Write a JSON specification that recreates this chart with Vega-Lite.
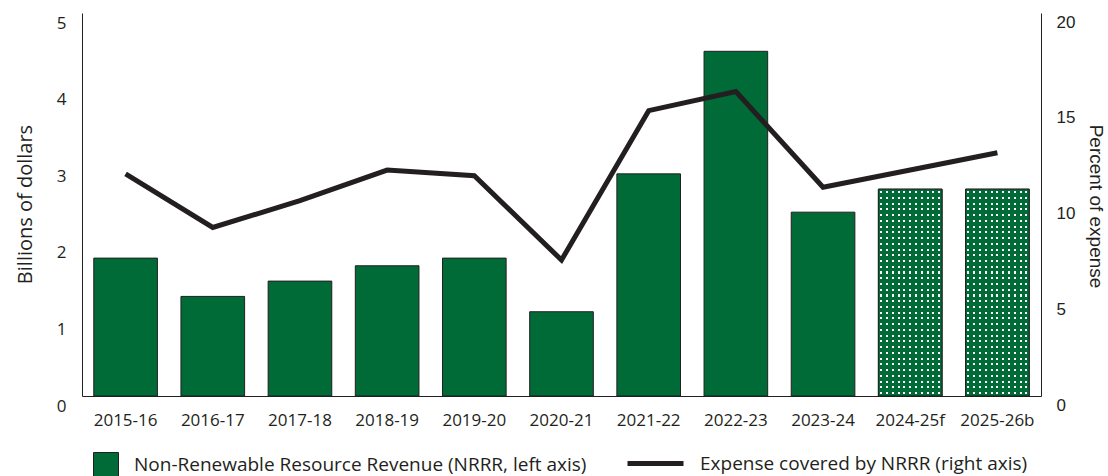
{
  "$schema": "https://vega.github.io/schema/vega-lite/v6.json",
  "width": 959,
  "height": 383,
  "autosize": {"type": "none"},
  "padding": {"left": 82, "top": 13, "right": 67, "bottom": 80},
  "background": "white",
  "config": {
    "view": {"stroke": null},
    "axis": {"grid": false, "ticks": false, "domainColor": "#231f20", "domainWidth": 1, "labelColor": "#231f20", "titleColor": "#231f20", "titleFontWeight": "normal"}
  },
  "data": {
    "values": [
      {"year": "2015-16", "nrrr": 1.8, "pct": 11.6, "type": "actual"},
      {"year": "2016-17", "nrrr": 1.3, "pct": 8.8, "type": "actual"},
      {"year": "2017-18", "nrrr": 1.5, "pct": 10.2, "type": "actual"},
      {"year": "2018-19", "nrrr": 1.7, "pct": 11.8, "type": "actual"},
      {"year": "2019-20", "nrrr": 1.8, "pct": 11.5, "type": "actual"},
      {"year": "2020-21", "nrrr": 1.1, "pct": 7.1, "type": "actual"},
      {"year": "2021-22", "nrrr": 2.9, "pct": 14.9, "type": "actual"},
      {"year": "2022-23", "nrrr": 4.5, "pct": 15.9, "type": "actual"},
      {"year": "2023-24", "nrrr": 2.4, "pct": 10.9, "type": "actual"},
      {"year": "2024-25f", "nrrr": 2.7, "pct": 11.8, "type": "forecast"},
      {"year": "2025-26b", "nrrr": 2.7, "pct": 12.7, "type": "forecast"}
    ]
  },
  "encoding": {
    "x": {
      "field": "year", "type": "nominal", "sort": null,
      "scale": {"paddingInner": 0.27, "paddingOuter": 0.135},
      "axis": {"title": null, "labelAngle": 0, "labelFont": "Open Sans", "labelFontSize": 17, "labelPadding": 16, "labelColor": "#231f20"}
    }
  },
  "layer": [
    {
      "layer": [
        {
          "mark": {"type": "bar", "stroke": "#231f20", "strokeWidth": 1},
          "encoding": {
            "y": {
              "field": "nrrr", "type": "quantitative",
              "scale": {"domain": [0, 5], "nice": false},
              "axis": {"orient": "left", "title": "Billions of dollars", "values": [0, 1, 2, 3, 4, 5], "format": "d", "labelFont": "Open Sans", "labelFontSize": 17, "labelPadding": 16, "labelOffset": 10, "titleFont": "Open Sans", "titleFontSize": 20, "titleAngle": 270, "titleX": -51, "titleY": 191, "titleBaseline": "alphabetic"}
            },
            "fill": {
              "datum": "Non-Renewable Resource Revenue (NRRR, left axis)",
              "type": "nominal",
              "scale": {"range": ["#006b37"]},
              "legend": {
                "orient": "none", "legendX": 11, "legendY": 439, "title": null,
                "labelFont": "Open Sans", "labelFontSize": 19, "labelColor": "#231f20", "labelLimit": 700, "labelOffset": 15,
                "symbolType": "square", "symbolSize": 625, "symbolStrokeColor": "#231f20", "symbolStrokeWidth": 1, "symbolFillColor": "#006b37", "padding": 0
              }
            }
          }
        },
        {
          "transform": [{"filter": "datum.type === 'forecast'"}],
          "mark": {"type": "bar", "fill": "white"},
          "encoding": {"y": {"field": "nrrr", "type": "quantitative"}}
        },
        {
          "transform": [{"filter": "datum.type === 'forecast'"}],
          "mark": {
            "type": "bar",
            "fill": {
              "gradient": "linear", "x1": 0, "y1": 0, "x2": 1, "y2": 0,
              "stops": [
                {"offset": 0.03, "color": "#006b37"}, {"offset": 0.03, "color": "rgba(0,107,55,0)"}, {"offset": 0.06, "color": "rgba(0,107,55,0)"}, {"offset": 0.06, "color": "#006b37"},
                {"offset": 0.121, "color": "#006b37"}, {"offset": 0.121, "color": "rgba(0,107,55,0)"}, {"offset": 0.151, "color": "rgba(0,107,55,0)"}, {"offset": 0.151, "color": "#006b37"},
                {"offset": 0.212, "color": "#006b37"}, {"offset": 0.212, "color": "rgba(0,107,55,0)"}, {"offset": 0.242, "color": "rgba(0,107,55,0)"}, {"offset": 0.242, "color": "#006b37"},
                {"offset": 0.303, "color": "#006b37"}, {"offset": 0.303, "color": "rgba(0,107,55,0)"}, {"offset": 0.333, "color": "rgba(0,107,55,0)"}, {"offset": 0.333, "color": "#006b37"},
                {"offset": 0.394, "color": "#006b37"}, {"offset": 0.394, "color": "rgba(0,107,55,0)"}, {"offset": 0.424, "color": "rgba(0,107,55,0)"}, {"offset": 0.424, "color": "#006b37"},
                {"offset": 0.485, "color": "#006b37"}, {"offset": 0.485, "color": "rgba(0,107,55,0)"}, {"offset": 0.515, "color": "rgba(0,107,55,0)"}, {"offset": 0.515, "color": "#006b37"},
                {"offset": 0.576, "color": "#006b37"}, {"offset": 0.576, "color": "rgba(0,107,55,0)"}, {"offset": 0.606, "color": "rgba(0,107,55,0)"}, {"offset": 0.606, "color": "#006b37"},
                {"offset": 0.667, "color": "#006b37"}, {"offset": 0.667, "color": "rgba(0,107,55,0)"}, {"offset": 0.697, "color": "rgba(0,107,55,0)"}, {"offset": 0.697, "color": "#006b37"},
                {"offset": 0.758, "color": "#006b37"}, {"offset": 0.758, "color": "rgba(0,107,55,0)"}, {"offset": 0.788, "color": "rgba(0,107,55,0)"}, {"offset": 0.788, "color": "#006b37"},
                {"offset": 0.849, "color": "#006b37"}, {"offset": 0.849, "color": "rgba(0,107,55,0)"}, {"offset": 0.879, "color": "rgba(0,107,55,0)"}, {"offset": 0.879, "color": "#006b37"},
                {"offset": 0.939, "color": "#006b37"}, {"offset": 0.939, "color": "rgba(0,107,55,0)"}, {"offset": 0.969, "color": "rgba(0,107,55,0)"}, {"offset": 0.969, "color": "#006b37"},
                {"offset": 1, "color": "#006b37"}
              ]
            }
          },
          "encoding": {"y": {"field": "nrrr", "type": "quantitative"}}
        },
        {
          "transform": [{"filter": "datum.type === 'forecast'"}],
          "mark": {
            "type": "bar",
            "fill": {
              "gradient": "linear", "x1": 0, "y1": 0, "x2": 0, "y2": 1,
              "stops": [
                {"offset": 0.009, "color": "#006b37"}, {"offset": 0.009, "color": "rgba(0,107,55,0)"}, {"offset": 0.019, "color": "rgba(0,107,55,0)"}, {"offset": 0.019, "color": "#006b37"},
                {"offset": 0.037, "color": "#006b37"}, {"offset": 0.037, "color": "rgba(0,107,55,0)"}, {"offset": 0.047, "color": "rgba(0,107,55,0)"}, {"offset": 0.047, "color": "#006b37"},
                {"offset": 0.065, "color": "#006b37"}, {"offset": 0.065, "color": "rgba(0,107,55,0)"}, {"offset": 0.075, "color": "rgba(0,107,55,0)"}, {"offset": 0.075, "color": "#006b37"},
                {"offset": 0.092, "color": "#006b37"}, {"offset": 0.092, "color": "rgba(0,107,55,0)"}, {"offset": 0.102, "color": "rgba(0,107,55,0)"}, {"offset": 0.102, "color": "#006b37"},
                {"offset": 0.120, "color": "#006b37"}, {"offset": 0.120, "color": "rgba(0,107,55,0)"}, {"offset": 0.130, "color": "rgba(0,107,55,0)"}, {"offset": 0.130, "color": "#006b37"},
                {"offset": 0.148, "color": "#006b37"}, {"offset": 0.148, "color": "rgba(0,107,55,0)"}, {"offset": 0.158, "color": "rgba(0,107,55,0)"}, {"offset": 0.158, "color": "#006b37"},
                {"offset": 0.176, "color": "#006b37"}, {"offset": 0.176, "color": "rgba(0,107,55,0)"}, {"offset": 0.186, "color": "rgba(0,107,55,0)"}, {"offset": 0.186, "color": "#006b37"},
                {"offset": 0.203, "color": "#006b37"}, {"offset": 0.203, "color": "rgba(0,107,55,0)"}, {"offset": 0.213, "color": "rgba(0,107,55,0)"}, {"offset": 0.213, "color": "#006b37"},
                {"offset": 0.231, "color": "#006b37"}, {"offset": 0.231, "color": "rgba(0,107,55,0)"}, {"offset": 0.241, "color": "rgba(0,107,55,0)"}, {"offset": 0.241, "color": "#006b37"},
                {"offset": 0.259, "color": "#006b37"}, {"offset": 0.259, "color": "rgba(0,107,55,0)"}, {"offset": 0.269, "color": "rgba(0,107,55,0)"}, {"offset": 0.269, "color": "#006b37"},
                {"offset": 0.287, "color": "#006b37"}, {"offset": 0.287, "color": "rgba(0,107,55,0)"}, {"offset": 0.297, "color": "rgba(0,107,55,0)"}, {"offset": 0.297, "color": "#006b37"},
                {"offset": 0.315, "color": "#006b37"}, {"offset": 0.315, "color": "rgba(0,107,55,0)"}, {"offset": 0.325, "color": "rgba(0,107,55,0)"}, {"offset": 0.325, "color": "#006b37"},
                {"offset": 0.342, "color": "#006b37"}, {"offset": 0.342, "color": "rgba(0,107,55,0)"}, {"offset": 0.352, "color": "rgba(0,107,55,0)"}, {"offset": 0.352, "color": "#006b37"},
                {"offset": 0.370, "color": "#006b37"}, {"offset": 0.370, "color": "rgba(0,107,55,0)"}, {"offset": 0.380, "color": "rgba(0,107,55,0)"}, {"offset": 0.380, "color": "#006b37"},
                {"offset": 0.398, "color": "#006b37"}, {"offset": 0.398, "color": "rgba(0,107,55,0)"}, {"offset": 0.408, "color": "rgba(0,107,55,0)"}, {"offset": 0.408, "color": "#006b37"},
                {"offset": 0.426, "color": "#006b37"}, {"offset": 0.426, "color": "rgba(0,107,55,0)"}, {"offset": 0.436, "color": "rgba(0,107,55,0)"}, {"offset": 0.436, "color": "#006b37"},
                {"offset": 0.453, "color": "#006b37"}, {"offset": 0.453, "color": "rgba(0,107,55,0)"}, {"offset": 0.463, "color": "rgba(0,107,55,0)"}, {"offset": 0.463, "color": "#006b37"},
                {"offset": 0.481, "color": "#006b37"}, {"offset": 0.481, "color": "rgba(0,107,55,0)"}, {"offset": 0.491, "color": "rgba(0,107,55,0)"}, {"offset": 0.491, "color": "#006b37"},
                {"offset": 0.509, "color": "#006b37"}, {"offset": 0.509, "color": "rgba(0,107,55,0)"}, {"offset": 0.519, "color": "rgba(0,107,55,0)"}, {"offset": 0.519, "color": "#006b37"},
                {"offset": 0.537, "color": "#006b37"}, {"offset": 0.537, "color": "rgba(0,107,55,0)"}, {"offset": 0.547, "color": "rgba(0,107,55,0)"}, {"offset": 0.547, "color": "#006b37"},
                {"offset": 0.565, "color": "#006b37"}, {"offset": 0.565, "color": "rgba(0,107,55,0)"}, {"offset": 0.575, "color": "rgba(0,107,55,0)"}, {"offset": 0.575, "color": "#006b37"},
                {"offset": 0.592, "color": "#006b37"}, {"offset": 0.592, "color": "rgba(0,107,55,0)"}, {"offset": 0.602, "color": "rgba(0,107,55,0)"}, {"offset": 0.602, "color": "#006b37"},
                {"offset": 0.620, "color": "#006b37"}, {"offset": 0.620, "color": "rgba(0,107,55,0)"}, {"offset": 0.630, "color": "rgba(0,107,55,0)"}, {"offset": 0.630, "color": "#006b37"},
                {"offset": 0.648, "color": "#006b37"}, {"offset": 0.648, "color": "rgba(0,107,55,0)"}, {"offset": 0.658, "color": "rgba(0,107,55,0)"}, {"offset": 0.658, "color": "#006b37"},
                {"offset": 0.676, "color": "#006b37"}, {"offset": 0.676, "color": "rgba(0,107,55,0)"}, {"offset": 0.686, "color": "rgba(0,107,55,0)"}, {"offset": 0.686, "color": "#006b37"},
                {"offset": 0.703, "color": "#006b37"}, {"offset": 0.703, "color": "rgba(0,107,55,0)"}, {"offset": 0.713, "color": "rgba(0,107,55,0)"}, {"offset": 0.713, "color": "#006b37"},
                {"offset": 0.731, "color": "#006b37"}, {"offset": 0.731, "color": "rgba(0,107,55,0)"}, {"offset": 0.741, "color": "rgba(0,107,55,0)"}, {"offset": 0.741, "color": "#006b37"},
                {"offset": 0.759, "color": "#006b37"}, {"offset": 0.759, "color": "rgba(0,107,55,0)"}, {"offset": 0.769, "color": "rgba(0,107,55,0)"}, {"offset": 0.769, "color": "#006b37"},
                {"offset": 0.787, "color": "#006b37"}, {"offset": 0.787, "color": "rgba(0,107,55,0)"}, {"offset": 0.797, "color": "rgba(0,107,55,0)"}, {"offset": 0.797, "color": "#006b37"},
                {"offset": 0.815, "color": "#006b37"}, {"offset": 0.815, "color": "rgba(0,107,55,0)"}, {"offset": 0.825, "color": "rgba(0,107,55,0)"}, {"offset": 0.825, "color": "#006b37"},
                {"offset": 0.842, "color": "#006b37"}, {"offset": 0.842, "color": "rgba(0,107,55,0)"}, {"offset": 0.852, "color": "rgba(0,107,55,0)"}, {"offset": 0.852, "color": "#006b37"},
                {"offset": 0.870, "color": "#006b37"}, {"offset": 0.870, "color": "rgba(0,107,55,0)"}, {"offset": 0.880, "color": "rgba(0,107,55,0)"}, {"offset": 0.880, "color": "#006b37"},
                {"offset": 0.898, "color": "#006b37"}, {"offset": 0.898, "color": "rgba(0,107,55,0)"}, {"offset": 0.908, "color": "rgba(0,107,55,0)"}, {"offset": 0.908, "color": "#006b37"},
                {"offset": 0.926, "color": "#006b37"}, {"offset": 0.926, "color": "rgba(0,107,55,0)"}, {"offset": 0.936, "color": "rgba(0,107,55,0)"}, {"offset": 0.936, "color": "#006b37"},
                {"offset": 0.953, "color": "#006b37"}, {"offset": 0.953, "color": "rgba(0,107,55,0)"}, {"offset": 0.963, "color": "rgba(0,107,55,0)"}, {"offset": 0.963, "color": "#006b37"},
                {"offset": 0.981, "color": "#006b37"}, {"offset": 0.981, "color": "rgba(0,107,55,0)"}, {"offset": 0.991, "color": "rgba(0,107,55,0)"}, {"offset": 0.991, "color": "#006b37"},
                {"offset": 1, "color": "#006b37"}
              ]
            }
          },
          "encoding": {"y": {"field": "nrrr", "type": "quantitative"}}
        },
        {
          "transform": [{"filter": "datum.type === 'forecast'"}],
          "mark": {"type": "bar", "fill": "transparent", "stroke": "#231f20", "strokeWidth": 1},
          "encoding": {"y": {"field": "nrrr", "type": "quantitative"}}
        }
      ]
    },
    {
      "mark": {"type": "line", "strokeWidth": 5, "strokeJoin": "miter", "strokeCap": "butt"},
      "encoding": {
        "y": {
          "field": "pct", "type": "quantitative",
          "scale": {"domain": [0, 20], "nice": false},
          "axis": {"orient": "right", "title": "Percent of expense", "values": [0, 5, 10, 15, 20], "labelFont": "Liberation Sans", "labelFontSize": 17, "labelPadding": 15, "labelOffset": 9, "titleFont": "Liberation Sans", "titleFontSize": 19, "titleAngle": 90, "titleX": 48, "titleY": 193, "titleBaseline": "alphabetic"}
        },
        "stroke": {
          "datum": "Expense covered by NRRR (right axis)",
          "type": "nominal",
          "scale": {"range": ["#231f20"]},
          "legend": {
            "orient": "none", "legendX": 543, "legendY": 420, "title": null,
            "labelFont": "Open Sans", "labelFontSize": 19, "labelColor": "#231f20", "labelLimit": 700, "labelOffset": 14,
            "symbolType": "stroke", "symbolSize": 3136, "symbolStrokeWidth": 5, "padding": 0
          }
        }
      }
    }
  ],
  "resolve": {"scale": {"y": "independent"}}
}
